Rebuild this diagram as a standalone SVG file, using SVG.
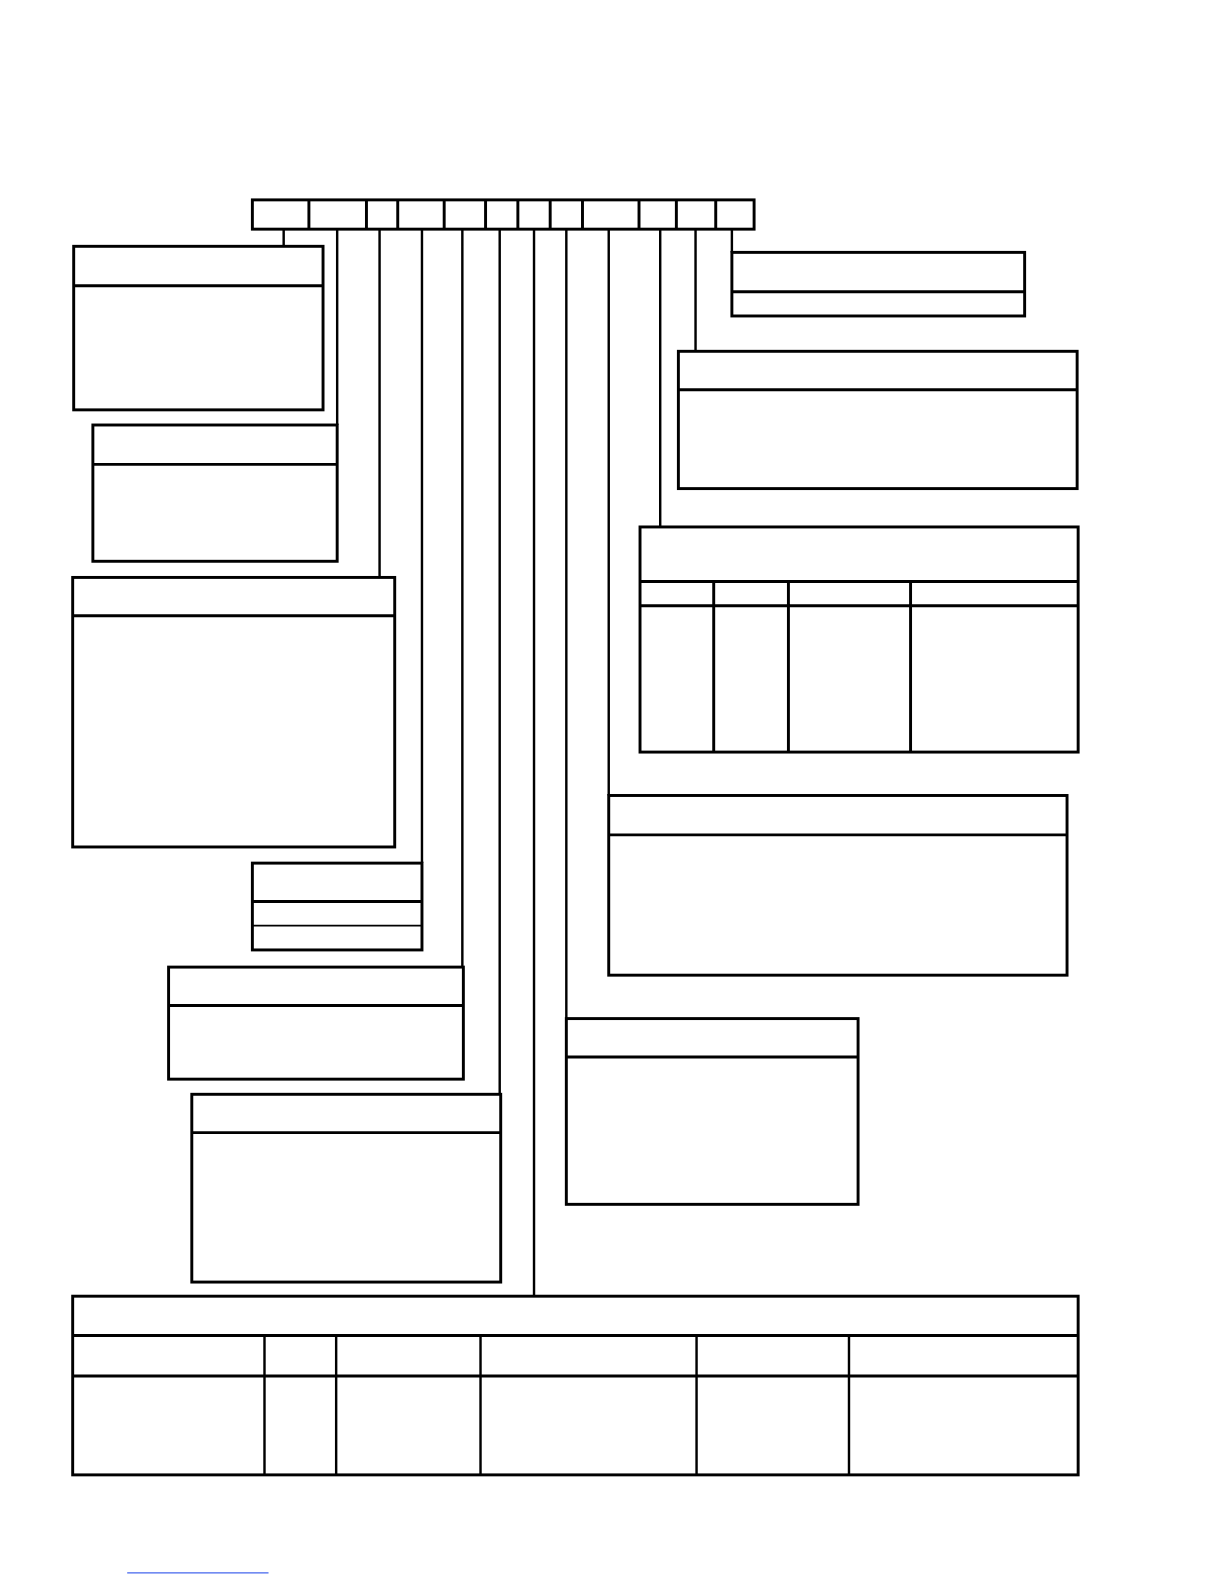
<svg xmlns="http://www.w3.org/2000/svg" width="1224" height="1584" viewBox="0 0 1224 1584">
<style>
.b{fill:#fff;stroke:#000;stroke-width:2.9}
.l{fill:none;stroke:#000;stroke-width:2.9}
.t{fill:none;stroke:#000;stroke-width:1.7}
.c{fill:none;stroke:#000;stroke-width:2.4}
</style>
<rect width="1224" height="1584" fill="#fff"/>
<g transform="scale(1.0095)">
<g id="connectors">
<path class="c" d="M281 227V244M334 227V421M376 227V572M418 227V855M458 227V958M495 227V1084M529 227V1284M561 227V1009M603 227V788M654 227V522M689 227V348M725 227V250"/>
</g>
<g id="record">
<rect class="b" x="250" y="198" width="497" height="29"/>
<path class="l" d="M306 198V227M363 198V227M394 198V227M440 198V227M481 198V227M513 198V227M545 198V227M577 198V227M633 198V227M670 198V227M709 198V227"/>
</g>
<g id="box1"><rect class="b" x="73" y="244" width="247" height="162"/><path class="l" d="M73 283H320"/></g>
<g id="box2"><rect class="b" x="92" y="421" width="242" height="135"/><path class="l" d="M92 460H334"/></g>
<g id="box3"><rect class="b" x="72" y="572" width="319" height="267"/><path class="l" d="M72 610H391"/></g>
<g id="box4"><rect class="b" x="250" y="855" width="168" height="86"/><path class="l" d="M250 893H418"/><path class="t" d="M250 917H418"/></g>
<g id="box5"><rect class="b" x="167" y="958" width="292" height="111"/><path class="l" d="M167 996H459"/></g>
<g id="box6"><rect class="b" x="190" y="1084" width="306" height="186"/><path class="l" d="M190 1122H496"/></g>
<g id="box7"><rect class="b" x="72" y="1284" width="996" height="177"/><path class="l" d="M72 1323H1068M72 1363H1068"/><path class="c" d="M262 1323V1461M333 1323V1461M476 1323V1461M690 1323V1461M841 1323V1461"/></g>
<g id="box8"><rect class="b" x="561" y="1009" width="289" height="184"/><path class="l" d="M561 1047H850"/></g>
<g id="box9"><rect class="b" x="603" y="788" width="454" height="178"/><path class="l" d="M603 827H1057"/></g>
<g id="box10"><rect class="b" x="634" y="522" width="434" height="223"/><path class="l" d="M634 576H1068M634 600H1068M707 576V745M781 576V745M902 576V745"/></g>
<g id="box11"><rect class="b" x="672" y="348" width="395" height="136"/><path class="l" d="M672 386H1067"/></g>
<g id="box12"><rect class="b" x="725" y="250" width="290" height="63"/><path class="l" d="M725 289H1015"/></g>
<path d="M126 1558H266" stroke="#4466ee" stroke-width="1.2" fill="none"/>
</g>
</svg>
